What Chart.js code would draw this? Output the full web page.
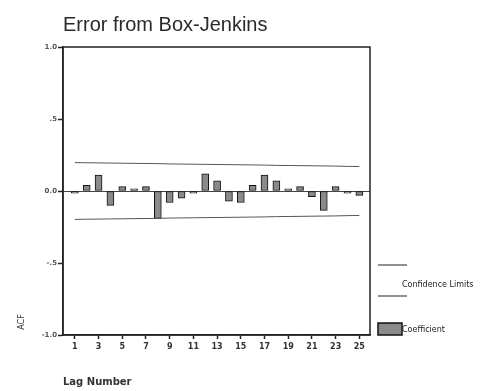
<!DOCTYPE html>
<html>
<head>
<meta charset="utf-8">
<script src="https://cdn.jsdelivr.net/npm/chart.js@4/dist/chart.umd.min.js"></script>
<style>
  html, body { margin: 0; padding: 0; background: #fff; }
  #c { display: block; }
</style>
</head>
<body>
<canvas id="c" width="483" height="391"></canvas>
<script>
// Autocorrelation of the Box-Jenkins residuals, lags 1..25
const lags = [1, 2, 3, 4, 5, 6, 7, 8, 9, 10, 11, 12, 13, 14, 15, 16, 17, 18, 19, 20, 21, 22, 23, 24, 25];
const acf = [-0.015, 0.04, 0.11, -0.10, 0.03, 0.015, 0.03, -0.19, -0.08, -0.05, -0.015, 0.12, 0.07,
             -0.07, -0.08, 0.04, 0.11, 0.07, 0.015, 0.03, -0.04, -0.135, 0.03, -0.015, -0.03];
const upperLimit = [0.197, 0.196, 0.195, 0.194, 0.193, 0.192, 0.191, 0.190, 0.188, 0.187, 0.186, 0.185, 0.184,
                    0.183, 0.182, 0.181, 0.180, 0.178, 0.177, 0.176, 0.175, 0.174, 0.173, 0.171, 0.170];
const lowerLimit = [-0.197, -0.196, -0.195, -0.194, -0.193, -0.192, -0.191, -0.190, -0.188, -0.187, -0.186, -0.185, -0.184,
                    -0.183, -0.182, -0.181, -0.180, -0.178, -0.177, -0.176, -0.175, -0.174, -0.173, -0.171, -0.170];
const xTickLags = [1, 3, 5, 7, 9, 11, 13, 15, 17, 19, 21, 23, 25];
const yTickValues = [-1, -0.5, 0, 0.5, 1];
const yTickLabels = ['-1.0', '-.5', '0.0', '.5', '1.0'];

const titleText = 'Error from Box-Jenkins';
const xTitle = 'Lag Number';
const yTitle = 'ACF';
const limitLabel = 'Confidence Limits';
const coefLabel = 'Coefficient';

const BAR_FILL = '#8a8a8a';
const INK = '#222';

const pairs = (ys) => lags.map((x, i) => ({ x: x, y: ys[i] }));

// Frame, titles and the side legend
const decorations = {
  id: 'decorations',
  afterDraw(chart) {
    const ctx = chart.ctx;
    const a = chart.chartArea;
    ctx.save();

    // box around the plot
    ctx.strokeStyle = INK;
    ctx.lineWidth = 1.5;
    ctx.strokeRect(a.left, a.top, a.right - a.left, a.bottom - a.top);

    // chart title
    ctx.fillStyle = '#2a2a2a';
    ctx.font = '20px "Liberation Sans", Arial, sans-serif';
    ctx.textAlign = 'left';
    ctx.textBaseline = 'alphabetic';
    ctx.fillText(titleText, a.left, 31);

    // x axis title
    ctx.font = 'bold 10px "DejaVu Sans", sans-serif';
    ctx.fillStyle = '#333';
    ctx.textBaseline = 'middle';
    ctx.fillText(xTitle, a.left, 382);

    // y axis title, rotated, near the bottom
    ctx.save();
    ctx.translate(22, 322);
    ctx.rotate(-Math.PI / 2);
    ctx.font = '8px "DejaVu Sans", sans-serif';
    ctx.textAlign = 'center';
    ctx.fillText(yTitle, 0, 0);
    ctx.restore();

    // legend
    const lx = a.right + 8;
    ctx.strokeStyle = INK;
    ctx.lineWidth = 1.2;
    ctx.beginPath();
    ctx.moveTo(lx, 265); ctx.lineTo(lx + 29, 265);
    ctx.moveTo(lx, 296); ctx.lineTo(lx + 29, 296);
    ctx.stroke();
    ctx.font = '8px "DejaVu Sans", sans-serif';
    ctx.fillStyle = '#222';
    ctx.textAlign = 'left';
    ctx.textBaseline = 'middle';
    ctx.fillText(limitLabel, lx + 24, 285);

    ctx.fillStyle = BAR_FILL;
    ctx.fillRect(lx, 323, 24, 12);
    ctx.lineWidth = 1.5;
    ctx.strokeStyle = '#111';
    ctx.strokeRect(lx, 323, 24, 12);
    ctx.fillStyle = '#222';
    ctx.fillText(coefLabel, lx + 24, 330);

    ctx.restore();
  }
};

new Chart(document.getElementById('c'), {
  data: {
    datasets: [
      {
        type: 'bar',
        label: coefLabel,
        data: pairs(acf),
        backgroundColor: BAR_FILL,
        borderColor: '#111',
        borderWidth: 1,
        borderSkipped: false,
        barThickness: 7,
        order: 2
      },
      {
        type: 'line',
        label: limitLabel,
        data: pairs(upperLimit),
        borderColor: '#555',
        borderWidth: 1,
        pointRadius: 0,
        fill: false,
        order: 1
      },
      {
        type: 'line',
        label: limitLabel,
        data: pairs(lowerLimit),
        borderColor: '#555',
        borderWidth: 1,
        pointRadius: 0,
        fill: false,
        order: 1
      }
    ]
  },
  options: {
    responsive: false,
    animation: false,
    layout: { padding: { left: 0, top: 47, right: 113, bottom: 0 } },
    plugins: {
      legend: { display: false },
      tooltip: { enabled: false },
      title: { display: false }
    },
    scales: {
      x: {
        type: 'linear',
        offset: false,
        min: 0,
        max: 25.9,
        afterBuildTicks(scale) {
          scale.ticks = xTickLags.map(v => ({ value: v }));
        },
        afterFit(scale) { scale.height = 56; },
        ticks: {
          autoSkip: false,
          maxRotation: 0,
          padding: 3,
          color: '#333',
          font: { family: '"DejaVu Sans", sans-serif', size: 8, weight: 'bold' },
          callback: (v) => String(v)
        },
        grid: {
          offset: false,
          drawOnChartArea: false,
          drawTicks: true,
          tickLength: 4,
          tickColor: '#222',
          tickWidth: 1.5
        },
        border: { display: true, color: INK, width: 1.5 }
      },
      y: {
        type: 'linear',
        min: -1,
        max: 1,
        afterBuildTicks(scale) {
          scale.ticks = yTickValues.map(v => ({ value: v }));
        },
        afterFit(scale) { scale.width = 63; },
        ticks: {
          padding: 1,
          color: '#555',
          font: { family: '"DejaVu Sans", sans-serif', size: 7, weight: 'bold' },
          callback: (v) => yTickLabels[yTickValues.indexOf(v)]
        },
        grid: {
          drawOnChartArea: true,
          drawTicks: true,
          tickLength: 5,
          tickColor: '#222',
          tickWidth: 1.5,
          color: (c) => (c.tick && c.tick.value === 0 ? '#444' : 'rgba(0,0,0,0)'),
          lineWidth: 1
        },
        border: { display: true, color: INK, width: 1.5 }
      }
    }
  },
  plugins: [decorations]
});
</script>
</body>
</html>
